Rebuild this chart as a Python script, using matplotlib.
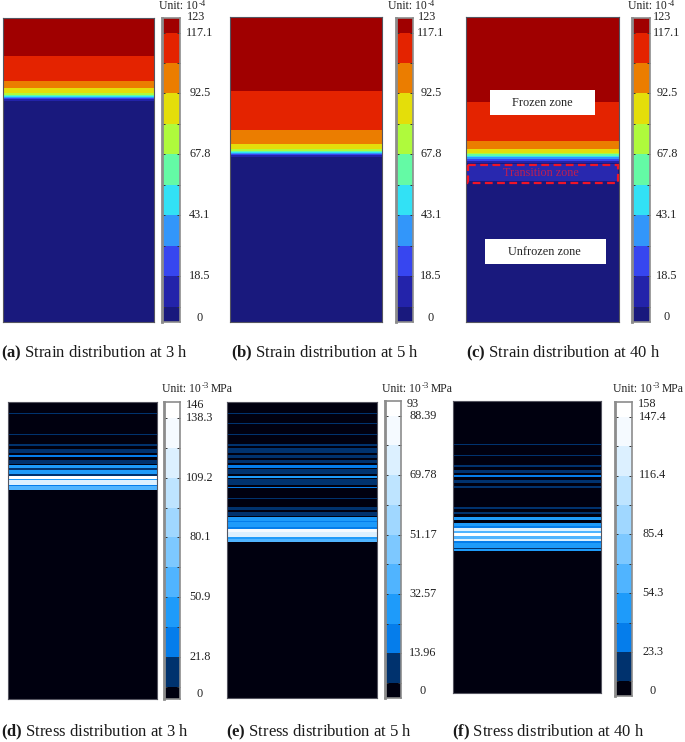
import matplotlib
matplotlib.use("Agg")
import matplotlib.pyplot as plt
from matplotlib.colors import BoundaryNorm, ListedColormap
from matplotlib.patches import Rectangle
import numpy as np

W, H = 685, 742

strain_levels = [0, 6.2, 18.5, 30.8, 43.1, 55.45, 67.8, 80.15, 92.5, 104.8, 117.1, 123]
strain_ticks = [0, 18.5, 43.1, 67.8, 92.5, 117.1, 123]
strain_labels = ["0", "18.5", "43.1", "67.8", "92.5", "117.1", "123"]
strain_colors = ["#19197d", "#2323aa", "#3746f0", "#3296fa", "#32e1f5", "#64faa5",
                 "#affa3c", "#e4de0a", "#eb7d00", "#e42300", "#a00000"]

# depth of each band edge from the panel top, dark red band first
strain_a_depth = [0, 38, 63, 70, 75, 76.5, 77.5, 78.5, 79.5, 80.5, 83, 304]
strain_b_depth = [0, 74, 113, 127, 132, 133.5, 135, 136, 137, 138, 140, 305]
strain_c_depth = [0, 85, 123.5, 132, 135.5, 137, 138.5, 140, 142, 144, 146, 305]

stress_d_levels = [0, 7.3, 21.8, 36.35, 50.9, 65.5, 80.1, 94.65, 109.2, 123.75, 138.3, 146]
stress_e_levels = [0, 4.65, 13.96, 23.3, 32.57, 41.9, 51.17, 60.5, 69.78, 79.1, 88.39, 93]
stress_f_levels = [0, 7.75, 23.3, 38.8, 54.3, 69.85, 85.4, 100.9, 116.4, 131.9, 147.4, 158]
stress_d_ticks = [0, 21.8, 50.9, 80.1, 109.2, 138.3, 146]
stress_e_ticks = [0, 13.96, 32.57, 51.17, 69.78, 88.39, 93]
stress_f_ticks = [0, 23.3, 54.3, 85.4, 116.4, 147.4, 158]
stress_d_labels = ["0", "21.8", "50.9", "80.1", "109.2", "138.3", "146"]
stress_e_labels = ["0", "13.96", "32.57", "51.17", "69.78", "88.39", "93"]
stress_f_labels = ["0", "23.3", "54.3", "85.4", "116.4", "147.4", "158"]
stress_colors = ["#00000f", "#00326e", "#057deb", "#1e9bfa", "#50b4ff", "#7dc8ff",
                 "#a0d7ff", "#bee4ff", "#dcf0ff", "#f5faff", "#ffffff"]

# stripes of the stress panels: start, end (depth from panel top) and value
stress_d_start = [10.5, 31.5, 42, 46.5, 52.5, 57.5, 63, 66, 67.5, 72, 73.5, 76.5, 77.5, 82.5, 84]
stress_d_end = [12, 32.5, 44, 50.5, 54.5, 61.5, 66, 67.5, 72, 73.5, 76.5, 77.5, 82.5, 84, 87.5]
stress_d_vals = [10, 8, 16, 16, 25, 16, 45, 16, 45, 16, 140, 45, 110, 30, 60]
stress_e_start = [10.5, 21, 32, 42, 46, 52.5, 58, 63, 67, 74, 77, 84.5, 95.5, 105, 109.5,
                  115, 118.5, 120, 124.7, 126.7, 130, 135, 136.7]
stress_e_end = [12, 22, 33, 44, 50.5, 55.5, 61, 66, 72, 76, 83, 86, 97, 108, 114,
                118.5, 120, 124.7, 126.7, 130, 135, 136.7, 140]
stress_e_vals = [12, 5, 8, 12, 8, 8, 8, 17, 8, 28, 8, 17, 5, 8, 8,
                 28, 17, 28, 17, 85, 70, 28, 40]
stress_f_start = [42.5, 53.5, 63.5, 69, 74, 79, 85, 106, 111, 116, 121.5, 125, 127, 130, 131.5,
                  135, 137.5, 140, 142, 146.5, 147.5]
stress_f_end = [44, 55, 65.5, 71.5, 76, 82, 86.5, 108, 113, 118.5, 125, 127, 130, 131.5, 135,
                137.5, 140, 142, 146.5, 147.5, 150]
stress_f_vals = [10, 10, 10, 10, 25, 10, 10, 10, 10, 40, 40, 25, 120, 60, 150,
                 60, 120, 25, 50, 16, 40]

plt.rcParams["font.family"] = "Liberation Serif"
plt.rcParams["mathtext.fontset"] = "custom"
plt.rcParams["mathtext.rm"] = "Liberation Serif"
plt.rcParams["mathtext.bf"] = "Liberation Serif:bold"
plt.rcParams["mathtext.default"] = "regular"

fig = plt.figure(figsize=(W / 100, H / 100), dpi=100)


def px_axes(x0, y0, x1, y1):
    ax = fig.add_axes([x0 / W, 1 - y1 / H, (x1 - x0) / W, (y1 - y0) / H])
    ax.set_xticks([])
    ax.set_yticks([])
    return ax


def field(ax, edges, vals, levels, colors):
    norm = BoundaryNorm(levels, len(colors))
    z = np.array(vals, dtype=float).reshape(-1, 1)
    ax.pcolormesh([0, 1], edges, z, cmap=ListedColormap(colors), norm=norm, shading="flat")
    ax.set_xlim(0, 1)
    for s in ax.spines.values():
        s.set_color("#555560")
        s.set_linewidth(0.8)


def strain_panel(box, depth):
    ax = px_axes(*box)
    mids = [(a + b) / 2 for a, b in zip(strain_levels[:-1], strain_levels[1:])][::-1]
    field(ax, depth, mids, strain_levels, strain_colors)
    ax.set_ylim(depth[-1], 0)
    return ax


def stress_panel(box, start, end, vals, levels):
    ax = px_axes(*box)
    total = box[3] - box[1]
    edges = [0]
    z = []
    last = 0
    for s, e, v in zip(start, end, vals):
        if s > last:
            edges.append(s)
            z.append(0)
        edges.append(e)
        z.append(v)
        last = e
    edges.append(total)
    z.append(0)
    field(ax, edges, z, levels, stress_colors)
    ax.set_ylim(total, 0)
    return ax


def colorbar(box, levels, colors, low=None, high=None):
    ax = px_axes(*box)
    mids = [(a + b) / 2 for a, b in zip(levels[:-1], levels[1:])]
    field(ax, levels, mids, levels, colors)
    ax.set_ylim(levels[0] if low is None else low, levels[-1] if high is None else high)
    for s in ax.spines.values():
        s.set_color("#8c8c8c")
        s.set_linewidth(1.2)
    ax.spines["left"].set_linewidth(2)
    ax.set_yticks(levels[1:-1])
    ax.set_yticklabels([])
    ax.tick_params(axis="y", length=2.5, width=0.7, color="#333333", direction="in", left=True, right=True)
    return ax


def bar_labels(ax, ticks, labels, x_center, y_low, y_top, top_left):
    # inner labels follow the ticks, first and last have their own spot
    for t, lab in zip(ticks[1:-1], labels[1:-1]):
        y = ax.transData.transform((0, t))[1]
        fig.text(x_center / W, y / fig.bbox.height, lab, fontsize=8.8, va="center", ha="center", color="#222222")
    fig.text(x_center / W, 1 - y_low / H, labels[0], fontsize=8.8, va="center", ha="center", color="#222222")
    fig.text(top_left / W, 1 - y_top / H, labels[-1], fontsize=8.8, va="center", ha="left", color="#222222")


ax_a = strain_panel((3, 18, 154, 322), strain_a_depth)
ax_b = strain_panel((230, 17, 382, 322), strain_b_depth)
ax_c = strain_panel((466, 17, 619, 322), strain_c_depth)

ax_d = stress_panel((8, 402, 157, 699), stress_d_start, stress_d_end, stress_d_vals, stress_d_levels)
ax_e = stress_panel((227, 402, 377, 698), stress_e_start, stress_e_end, stress_e_vals, stress_e_levels)
ax_f = stress_panel((453, 401, 601, 693), stress_f_start, stress_f_end, stress_f_vals, stress_f_levels)

cb_a = colorbar((162, 18, 180, 322), strain_levels, strain_colors)
cb_b = colorbar((396, 18, 413, 322), strain_levels, strain_colors)
cb_c = colorbar((632, 18, 650, 322), strain_levels, strain_colors)
bar_labels(cb_a, strain_ticks, strain_labels, 200, 318, 17, 187)
bar_labels(cb_b, strain_ticks, strain_labels, 431, 318, 17, 418)
bar_labels(cb_c, strain_ticks, strain_labels, 667, 317, 17, 653)

cb_d = colorbar((164, 402, 180, 699), stress_d_levels, stress_colors, low=1.5)
cb_e = colorbar((385, 401, 401, 698), stress_e_levels, stress_colors)
cb_f = colorbar((615, 402, 632, 696), stress_f_levels, stress_colors, high=155.2)
bar_labels(cb_d, stress_d_ticks, stress_d_labels, 200, 694, 405, 186)
bar_labels(cb_e, stress_e_ticks, stress_e_labels, 423, 691, 404, 407)
bar_labels(cb_f, stress_f_ticks, stress_f_labels, 653, 691, 404, 638)

# overlay in pixel coordinates for captions and zone labels
over = fig.add_axes([0, 0, 1, 1], zorder=10)
over.set_xlim(0, W)
over.set_ylim(H, 0)
over.axis("off")

for x, sup in [(159, "-4"), (388, "-4"), (628, "-4")]:
    over.text(x, 6, "Unit: 10", fontsize=8.4, va="center", color="#222222")
    over.text(x + 40, 3.5, sup, fontsize=6.2, va="center", color="#222222")
for x in [162, 382, 613]:
    over.text(x, 389, "Unit: 10", fontsize=8.4, va="center", color="#222222")
    over.text(x + 40, 386.5, "-3", fontsize=6.2, va="center", color="#222222")
    over.text(x + 49, 389, "MPa", fontsize=8.4, va="center", color="#222222")

captions = ["$\\mathbf{(a)}$ Strain distribution at 3 h", "$\\mathbf{(b)}$ Strain distribution at 5 h",
            "$\\mathbf{(c)}$ Strain distribution at 40 h", "$\\mathbf{(d)}$ Stress distribution at 3 h",
            "$\\mathbf{(e)}$ Stress distribution at 5 h", "$\\mathbf{(f)}$ Stress distribution at 40 h"]
for (x, y), cap in zip([(1, 353), (231, 353), (466, 353), (1, 732), (226, 732), (452, 732)], captions):
    over.text(x, y, cap, fontsize=12, va="center", color="#1a1a1a")

over.add_patch(Rectangle((467, 164), 151, 17, facecolor="#2828af", edgecolor="none"))
over.add_patch(Rectangle((468, 164.5), 150, 18, fill=False, edgecolor="#f01428", lw=1.6, ls=(0, (3.5, 2))))
over.text(541, 173, "Transition zone", fontsize=8.7, ha="center", va="center", color="#c01e50")
over.add_patch(Rectangle((490, 90), 105, 25, facecolor="white", edgecolor="none"))
over.text(542, 102.5, "Frozen zone", fontsize=8.8, ha="center", va="center", color="#222222")
over.add_patch(Rectangle((485, 239), 121, 25, facecolor="white", edgecolor="none"))
over.text(544, 252, "Unfrozen zone", fontsize=8.8, ha="center", va="center", color="#222222")

fig.savefig("out.png", dpi=100)
